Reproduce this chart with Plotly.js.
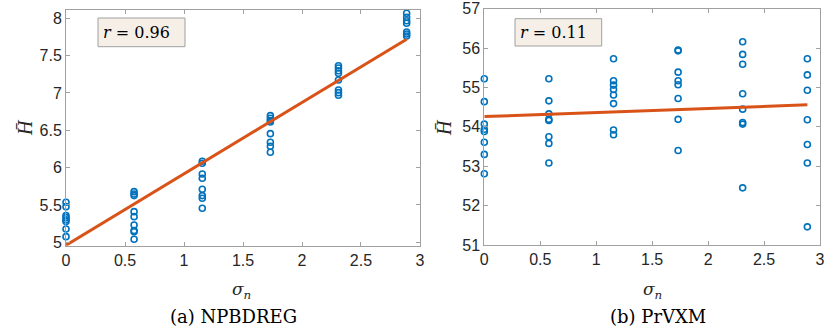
<!DOCTYPE html>
<html>
<head>
<meta charset="utf-8">
<script src="https://cdn.plot.ly/plotly-3.0.1.min.js"></script>
<style>html,body{margin:0;padding:0;background:#fff;}#chart{width:827px;height:331px;}</style>
</head>
<body>
<div id="chart"></div>
<script>
// sigma_n levels
const sigmaLevels = [0, 0.577, 1.155, 1.732, 2.309, 2.887];

// (a) NPBDREG: H-bar values per sigma_n level
const npbA0 = [5.536, 5.477, 5.357, 5.330, 5.300, 5.278, 5.178, 5.075];
const npbA1 = [5.678, 5.647, 5.625, 5.410, 5.343, 5.232, 5.157, 5.140, 5.040];
const npbA2 = [6.085, 6.058, 5.915, 5.857, 5.710, 5.625, 5.589, 5.455];
const npbA3 = [6.696, 6.661, 6.630, 6.611, 6.455, 6.339, 6.286, 6.205];
const npbA4 = [7.365, 7.334, 7.298, 7.263, 7.174, 7.040, 7.004, 6.969];
const npbA5 = [8.111, 8.067, 8.013, 7.968, 7.933, 7.817, 7.790, 7.763];
const npbFitX = [0, 2.887];
const npbFitY = [4.96, 7.72];

// (b) PrVXM: H-bar values per sigma_n level
const prvB0 = [55.22, 54.64, 54.07, 53.94, 53.88, 53.61, 53.30, 52.81];
const prvB1 = [55.22, 54.66, 54.33, 54.19, 54.16, 53.75, 53.58, 53.08];
const prvB2 = [55.73, 55.17, 55.06, 54.95, 54.81, 54.59, 53.92, 53.80];
const prvB3 = [55.95, 55.93, 55.39, 55.17, 55.07, 54.72, 54.19, 53.40];
const prvB4 = [56.16, 55.84, 55.59, 54.84, 54.45, 54.11, 54.07, 52.45];
const prvB5 = [55.73, 55.32, 54.93, 54.18, 53.55, 53.08, 51.46];
const prvFitX = [0, 2.887];
const prvFitY = [54.26, 54.56];

const xTicks = [0, 0.5, 1, 1.5, 2, 2.5, 3];
const xTickText = ['0', '0.5', '1', '1.5', '2', '2.5', '3'];
const yTicksA = [5, 5.5, 6, 6.5, 7, 7.5, 8];
const yTickTextA = ['5', '5.5', '6', '6.5', '7', '7.5', '8'];
const yTicksB = [51, 52, 53, 54, 55, 56, 57];
const yTickTextB = ['51', '52', '53', '54', '55', '56', '57'];

const rA = '<i>r</i> = 0.96';
const rB = '<i>r</i> = 0.11';
const capA = '(a) NPBDREG';
const capB = '(b) PrVXM';

function flatten(groups) {
  const xs = [], ys = [];
  groups.forEach((g, i) => g.forEach(v => { xs.push(sigmaLevels[i]); ys.push(v); }));
  return {xs, ys};
}
const A = flatten([npbA0, npbA1, npbA2, npbA3, npbA4, npbA5]);
const B = flatten([prvB0, prvB1, prvB2, prvB3, prvB4, prvB5]);

const blue = '#0072BD', orange = '#D95319';
const marker = {symbol: 'circle-open', size: 6, color: blue, line: {color: blue, width: 1.6}};

const traces = [
  {x: A.xs, y: A.ys, mode: 'markers', type: 'scatter', marker: marker, xaxis: 'x', yaxis: 'y', cliponaxis: false},
  {x: npbFitX, y: npbFitY, mode: 'lines', type: 'scatter', line: {color: orange, width: 3}, xaxis: 'x', yaxis: 'y'},
  {x: B.xs, y: B.ys, mode: 'markers', type: 'scatter', marker: marker, xaxis: 'x2', yaxis: 'y2', cliponaxis: false},
  {x: prvFitX, y: prvFitY, mode: 'lines', type: 'scatter', line: {color: orange, width: 3}, xaxis: 'x2', yaxis: 'y2'}
];

const W = 827, H = 331;
const tickFont = {family: 'Liberation Sans, Arial, sans-serif', size: 16, color: '#262626'};
const axBase = {
  showgrid: false, zeroline: false, showline: true, linecolor: '#a0a0a0', linewidth: 1,
  mirror: 'ticks', ticks: 'inside', ticklen: 4, tickcolor: '#a0a0a0', tickwidth: 1,
  tickfont: tickFont, tickmode: 'array'
};

const layout = {
  width: W, height: H,
  margin: {l: 0, r: 0, t: 0, b: 0},
  paper_bgcolor: '#fff', plot_bgcolor: '#fff',
  showlegend: false,
  xaxis: Object.assign({}, axBase, {domain: [66/W, 420/W], range: [-0.0001, 3.0001], tickvals: xTicks, ticktext: xTickText, anchor: 'y'}),
  yaxis: Object.assign({}, axBase, {domain: [1 - 245.7/H, 1 - 10.3/H], range: [4.954, 8.107], tickvals: yTicksA, ticktext: yTickTextA, anchor: 'x'}),
  xaxis2: Object.assign({}, axBase, {domain: [484.3/W, 820/W], range: [-0.0001, 3.0001], tickvals: xTicks, ticktext: xTickText, anchor: 'y2'}),
  yaxis2: Object.assign({}, axBase, {domain: [1 - 245/H, 1 - 8.7/H], range: [50.999, 57.001], tickvals: yTicksB, ticktext: yTickTextB, anchor: 'x2'}),
  shapes: [
    {type: 'rect', xref: 'paper', yref: 'paper', x0: 98/W, x1: 185/W, y0: 1 - 46.7/H, y1: 1 - 18/H, fillcolor: '#f5efe8', line: {color: '#a0a0a0', width: 1}},
    {type: 'rect', xref: 'paper', yref: 'paper', x0: 515/W, x1: 601.7/W, y0: 1 - 46/H, y1: 1 - 18.7/H, fillcolor: '#f5efe8', line: {color: '#a0a0a0', width: 1}}
  ],
  annotations: [
    {xref: 'paper', yref: 'paper', x: 101/W, y: 1 - 32.3/H, text: rA, showarrow: false, font: {family: 'DejaVu Serif, serif', size: 16, color: '#000'}, xanchor: 'left', yanchor: 'middle'},
    {xref: 'paper', yref: 'paper', x: 518/W, y: 1 - 32.3/H, text: rB, showarrow: false, font: {family: 'DejaVu Serif, serif', size: 16, color: '#000'}, xanchor: 'left', yanchor: 'middle'},
    {xref: 'paper', yref: 'paper', x: 25/W, y: 1 - 128/H, text: '<i>H\u0304</i>', textangle: -90, showarrow: false, font: {family: 'Liberation Serif, serif', size: 20, color: '#262626'}, xanchor: 'center', yanchor: 'middle'},
    {xref: 'paper', yref: 'paper', x: 444/W, y: 1 - 128/H, text: '<i>H\u0304</i>', textangle: -90, showarrow: false, font: {family: 'Liberation Serif, serif', size: 20, color: '#262626'}, xanchor: 'center', yanchor: 'middle'},
    {xref: 'paper', yref: 'paper', x: 242/W, y: 1 - 290/H, text: '<i>σ<sub>n</sub></i>', showarrow: false, font: {family: 'DejaVu Serif, serif', size: 17, color: '#262626'}, xanchor: 'center', yanchor: 'middle'},
    {xref: 'paper', yref: 'paper', x: 652/W, y: 1 - 290/H, text: '<i>σ<sub>n</sub></i>', showarrow: false, font: {family: 'DejaVu Serif, serif', size: 17, color: '#262626'}, xanchor: 'center', yanchor: 'middle'},
    {xref: 'paper', yref: 'paper', x: 233/W, y: 1 - 316/H, text: capA, showarrow: false, font: {family: 'DejaVu Serif, serif', size: 18, color: '#000'}, xanchor: 'center', yanchor: 'middle'},
    {xref: 'paper', yref: 'paper', x: 658/W, y: 1 - 316/H, text: capB, showarrow: false, font: {family: 'DejaVu Serif, serif', size: 18, color: '#000'}, xanchor: 'center', yanchor: 'middle'}
  ]
};

Plotly.newPlot('chart', traces, layout, {staticPlot: true, displayModeBar: false});
</script>
</body>
</html>
